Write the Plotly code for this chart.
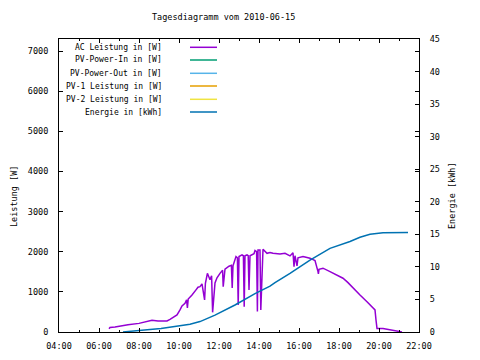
import plotly.graph_objects as go

# ---- data ----
ac_time = [6.50, 6.55, 6.80, 7.15, 7.45, 8.00, 8.45, 8.65, 8.95, 9.40, 9.55, 9.80, 9.90,
           10.05, 10.15, 10.30, 10.38, 10.42, 10.46, 10.65, 10.75, 10.85, 10.95, 11.05,
           11.15, 11.28, 11.32, 11.42, 11.47, 11.55, 11.63, 11.68, 11.80, 11.90, 12.05,
           12.18, 12.21, 12.30, 12.50, 12.62, 12.66, 12.70, 12.85, 12.92, 12.96, 13.00,
           13.15, 13.22, 13.26, 13.30, 13.40, 13.46, 13.50, 13.55, 13.75, 13.80, 13.88,
           13.92, 13.95, 14.05, 14.09, 14.20, 14.40, 14.55, 14.70, 15.05, 15.30, 15.55,
           15.70, 15.75, 15.80, 15.90, 15.95, 16.20, 16.55, 16.80, 16.95, 16.97, 17.00,
           17.20, 17.55, 17.90, 18.20, 18.45, 18.70, 19.05, 19.40, 19.70, 19.80, 19.85,
           19.90, 20.20, 20.55, 20.95, 21.15]
ac_power = [80, 110, 125, 160, 180, 215, 255, 290, 275, 275, 315, 380, 425,
            550, 650, 715, 800, 600, 820, 920, 1000, 1050, 1115, 1130,
            1200, 800, 1215, 1460, 1400, 1300, 1400, 490, 1220, 1350, 1460,
            1540, 1130, 1565, 1640, 1660, 1100, 1650, 1880, 1850, 670, 1880,
            1920, 1900, 630, 1900, 1920, 1900, 1045, 1900, 1950, 2030, 2000,
            510, 2040, 2040, 550, 2060, 1960, 1980, 1960, 1945, 1960, 1895,
            1975, 1630, 1900, 1645, 1850, 1880, 1840, 1780, 1505, 1450, 1560,
            1590, 1505, 1420, 1340, 1230, 1090, 920, 755, 615, 550, 300,
            90, 90, 50, 10, 0]

en_time = [7.20, 8.10, 8.55, 9.10, 9.45, 10.05, 10.55, 11.05, 11.80, 12.80, 13.80,
           14.55, 14.80, 15.55, 16.55, 17.55, 18.05, 18.55, 19.05, 19.55, 20.20, 21.45]
en_kwh = [0, 0.2, 0.4, 0.55, 0.7, 0.9, 1.2, 1.6, 2.6, 4.15, 5.9,
          7.05, 7.6, 9.0, 11.05, 12.85, 13.35, 13.9, 14.55, 15.0, 15.25, 15.3]

pv_in_time, pv_in = [], []
pv_out_time, pv_out = [], []
pv1_time, pv1 = [], []
pv2_time, pv2 = [], []

x_tickvals = [4, 6, 8, 10, 12, 14, 16, 18, 20, 22]
x_ticktext = ["04:00", "06:00", "08:00", "10:00", "12:00", "14:00", "16:00", "18:00", "20:00", "22:00"]
y1_tickvals = [0, 1000, 2000, 3000, 4000, 5000, 6000, 7000]
y2_tickvals = [0, 5, 10, 15, 20, 25, 30, 35, 40, 45]

legend_names = ["AC Leistung in [W]", "PV-Power-In in [W]", "PV-Power-Out in [W]",
                "PV-1 Leistung in [W]", "PV-2 Leistung in [W]", "Energie in [kWh]"]
colors = ["#9400d3", "#009e73", "#56b4e9", "#e69f00", "#f0e442", "#0072b2"]

FONT = "DejaVu Sans Mono"
FS = 8.5
FS_LEG = 8

fig = go.Figure()
series = [(ac_time, ac_power, "y"), (pv_in_time, pv_in, "y"), (pv_out_time, pv_out, "y"),
          (pv1_time, pv1, "y"), (pv2_time, pv2, "y"), (en_time, en_kwh, "y2")]
for (t, v, ax), name, c in zip(series, legend_names, colors):
    fig.add_trace(go.Scatter(x=t, y=v, mode="lines", name=name, yaxis=ax,
                             line=dict(color=c, width=1.5), showlegend=False))

# page body has an 8px margin: compensate so the plot lands where the reference has it
OFF = 8
FW, FH = 480 - OFF, 360 - OFF
W, H, L, B = 360, 293, 59, 332      # plot area in screen pixels
rows_py = [47.3, 60, 73.3, 86, 99.3, 112]
annotations = []
shapes = []
for name, c, py in zip(legend_names, colors, rows_py):
    yp = (B - py) / H
    annotations.append(dict(x=(164 - L) / W, y=yp, xref="paper", yref="paper", text=name,
                            showarrow=False, xanchor="right", yanchor="middle",
                            font=dict(family=FONT, size=FS_LEG, color="black")))
    shapes.append(dict(type="line", xref="paper", yref="paper", x0=(190 - L) / W, x1=(217 - L) / W,
                       y0=yp, y1=yp, line=dict(color=c, width=1.5)))

annotations.append(dict(x=(223 - L) / W, y=(B - 17) / H, xref="paper", yref="paper",
                        text="Tagesdiagramm vom 2010-06-15", showarrow=False,
                        xanchor="center", yanchor="middle",
                        font=dict(family=FONT, size=FS, color="black")))
annotations.append(dict(x=(14 - L) / W, y=(B - 197) / H, xref="paper", yref="paper",
                        text="Leistung [W]", showarrow=False, textangle=-90,
                        xanchor="center", yanchor="middle",
                        font=dict(family=FONT, size=FS, color="black")))
annotations.append(dict(x=(452 - L) / W, y=(B - 195) / H, xref="paper", yref="paper",
                        text="Energie [kWh]", showarrow=False, textangle=-90,
                        xanchor="center", yanchor="middle",
                        font=dict(family=FONT, size=FS, color="black")))

axis_common = dict(showgrid=False, zeroline=False, showline=True, linecolor="black",
                   linewidth=1, ticks="inside", tickcolor="black", tickwidth=1,
                   tickfont=dict(family=FONT, size=FS, color="black"), automargin=False)

fig.update_layout(
    width=FW, height=FH,
    margin=dict(l=L - OFF, r=480 - 419, t=39 - OFF, b=360 - B, pad=0),
    paper_bgcolor="white", plot_bgcolor="white",
    showlegend=False,
    xaxis=dict(range=[4, 22], tickvals=x_tickvals, ticktext=x_ticktext, mirror="ticks",
               ticklen=4, ticklabelstandoff=6,
               minor=dict(dtick=1, tick0=4, ticks="inside", ticklen=2, tickcolor="black"),
               **axis_common),
    yaxis=dict(range=[0, 7300], tickvals=y1_tickvals, mirror="ticks", ticklen=4,
               ticklabelstandoff=8, **axis_common),
    yaxis2=dict(range=[0, 45], tickvals=y2_tickvals, overlaying="y", side="right",
                ticklen=4, ticklabelstandoff=8, **axis_common),
    annotations=annotations,
    shapes=shapes,
)

fig.write_html("out.html")
